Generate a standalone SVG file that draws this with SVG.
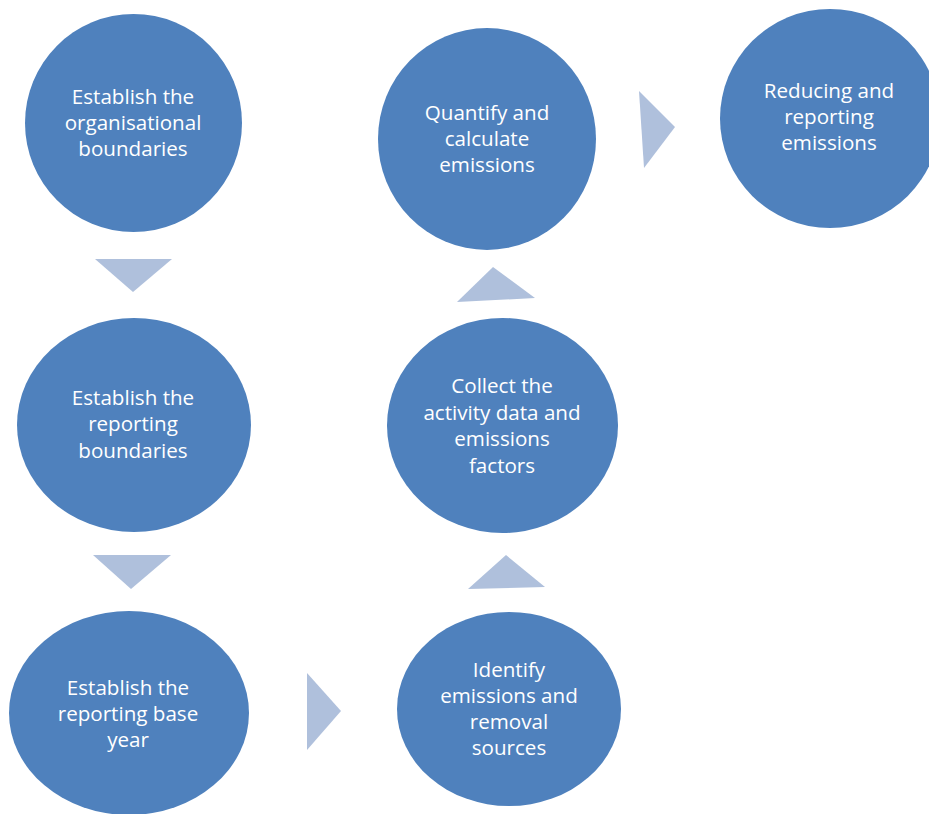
<svg xmlns="http://www.w3.org/2000/svg" width="929" height="814" viewBox="0 0 929 814">
<style>
.node{fill:#4F81BD;}
.lbl{fill:#FFFFFF;font-family:"Open Sans","Liberation Sans",sans-serif;font-size:20.6px;text-anchor:middle;}
.arrow{fill:#AFC0DC;}
</style>
<rect width="929" height="814" fill="#FFFFFF"/>
<g id="connectors">
<polygon class="arrow" points="95,259 172,259 133,292"/>
<polygon class="arrow" points="93,555 171,555 131,589"/>
<polygon class="arrow" points="307,673 341,711 307,750"/>
<polygon class="arrow" points="468,589 545,587 506,555"/>
<polygon class="arrow" points="457,302 535,298 493,267"/>
<polygon class="arrow" points="639,91 675,127 644,168"/>
</g>
<g id="node1">
<ellipse class="node" cx="133.5" cy="123" rx="108.5" ry="109"/>
<text class="lbl" x="133" y="104">Establish the</text>
<text class="lbl" x="133" y="130">organisational</text>
<text class="lbl" x="133" y="156">boundaries</text>
</g>
<g id="node2">
<ellipse class="node" cx="134" cy="425" rx="117" ry="107"/>
<text class="lbl" x="133" y="405">Establish the</text>
<text class="lbl" x="133" y="431">reporting</text>
<text class="lbl" x="133" y="458">boundaries</text>
</g>
<g id="node3">
<ellipse class="node" cx="129" cy="713" rx="120" ry="102"/>
<text class="lbl" x="128" y="695">Establish the</text>
<text class="lbl" x="128" y="721">reporting base</text>
<text class="lbl" x="128" y="747">year</text>
</g>
<g id="node4">
<ellipse class="node" cx="509" cy="709" rx="112" ry="97"/>
<text class="lbl" x="509" y="677">Identify</text>
<text class="lbl" x="509" y="703">emissions and</text>
<text class="lbl" x="509" y="729">removal</text>
<text class="lbl" x="509" y="755">sources</text>
</g>
<g id="node5">
<ellipse class="node" cx="502.5" cy="425.5" rx="115.5" ry="107.5"/>
<text class="lbl" x="502" y="393">Collect the</text>
<text class="lbl" x="502" y="420">activity data and</text>
<text class="lbl" x="502" y="446">emissions</text>
<text class="lbl" x="502" y="473">factors</text>
</g>
<g id="node6">
<ellipse class="node" cx="487" cy="139" rx="109" ry="111"/>
<text class="lbl" x="487" y="120">Quantify and</text>
<text class="lbl" x="487" y="146">calculate</text>
<text class="lbl" x="487" y="172">emissions</text>
</g>
<g id="node7">
<ellipse class="node" cx="830" cy="118.5" rx="110" ry="109.5"/>
<text class="lbl" x="829" y="98">Reducing and</text>
<text class="lbl" x="829" y="124">reporting</text>
<text class="lbl" x="829" y="150">emissions</text>
</g>
</svg>
